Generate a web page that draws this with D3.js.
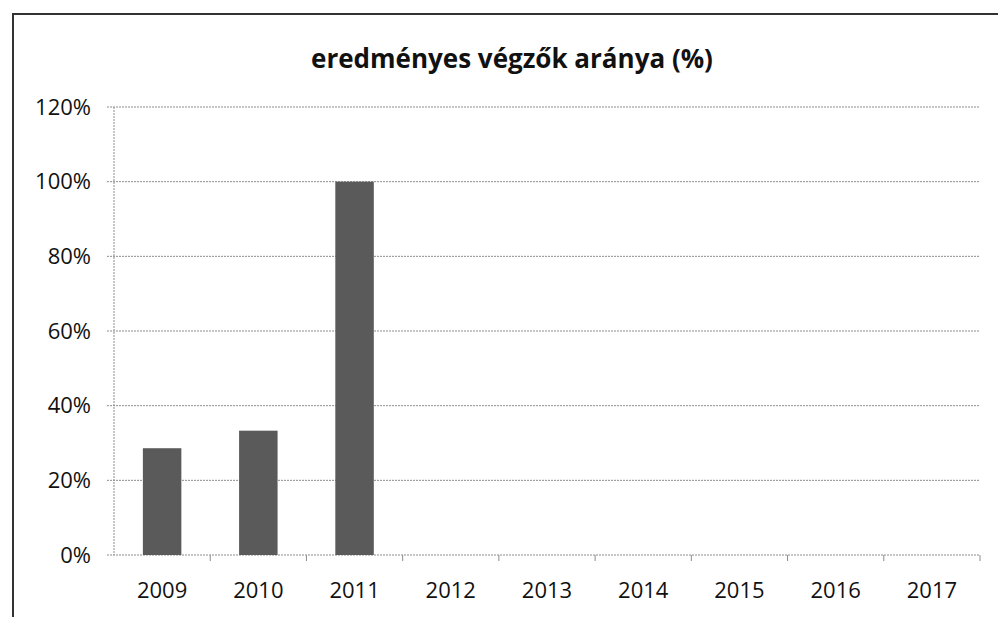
<!DOCTYPE html>
<html lang="hu">
<head>
<meta charset="UTF-8">
<script src="https://d3js.org/d3.v7.min.js"></script>
<title>eredményes végzők aránya</title>
<style>
  body { margin: 0; background: #fff; }
  text { font-family: "Open Sans", sans-serif; fill: #111; }
  .grid line { stroke: #8c8c8c; stroke-dasharray: 2,1; }
</style>
</head>
<body>
<script>
// data
var years = ["2009", "2010", "2011", "2012", "2013", "2014", "2015", "2016", "2017"];
var rates = [28.6, 33.3, 100, null, null, null, null, null, null];
var yTicks = [0, 20, 40, 60, 80, 100, 120];
var title = "eredményes végzők aránya (%)";

var W = 998, H = 617;
var margin = { top: 107, right: 18, bottom: 62, left: 114 };
var width = W - margin.left - margin.right,
    height = H - margin.top - margin.bottom;

var svg = d3.select("body").append("svg")
    .attr("width", W)
    .attr("height", H);

// outer chart frame (only top and left edges are visible in the scan)
svg.append("path")
    .attr("d", "M13,617 L13,14 L998,14")
    .attr("fill", "none")
    .attr("stroke", "#333")
    .attr("stroke-width", 2);

svg.append("text")
    .attr("x", 512)
    .attr("y", 68)
    .attr("text-anchor", "middle")
    .style("font-size", "26px")
    .style("font-weight", "bold")
    .text(title);

var g = svg.append("g")
    .attr("transform", "translate(" + margin.left + "," + margin.top + ")");

var xc = d3.scaleBand().domain(years).range([0, width]);
var y = d3.scaleLinear().domain([0, 120]).range([height, 0]);

// horizontal gridlines with the little left ticks
g.append("g")
    .attr("class", "grid")
    .selectAll("line")
    .data(yTicks)
    .enter().append("line")
    .attr("x1", -7)
    .attr("x2", width)
    .attr("y1", function (d) { return y(d); })
    .attr("y2", function (d) { return y(d); });

// y axis line
g.append("line")
    .attr("x1", 0).attr("x2", 0)
    .attr("y1", 0).attr("y2", height)
    .attr("stroke", "#8c8c8c")
    .attr("stroke-dasharray", "2,1");

// category boundary ticks on x axis
g.append("g")
    .selectAll("line")
    .data(years)
    .enter().append("line")
    .attr("x1", function (d) { return xc(d) + xc.bandwidth(); })
    .attr("x2", function (d) { return xc(d) + xc.bandwidth(); })
    .attr("y1", height)
    .attr("y2", height + 6)
    .attr("stroke", "#8c8c8c");

// y labels
g.append("g")
    .selectAll("text")
    .data(yTicks)
    .enter().append("text")
    .attr("x", -23)
    .attr("y", function (d) { return y(d); })
    .attr("dy", "0.35em")
    .attr("text-anchor", "end")
    .style("font-size", "22px")
    .text(function (d) { return d + "%"; });

// x labels
g.append("g")
    .selectAll("text")
    .data(years)
    .enter().append("text")
    .attr("x", function (d) { return xc(d) + xc.bandwidth() / 2; })
    .attr("y", height + 43)
    .attr("text-anchor", "middle")
    .style("font-size", "22px")
    .text(function (d) { return d; });

// bars
g.append("g")
    .selectAll("rect")
    .data(years.map(function (d, i) { return { year: d, v: rates[i] }; })
        .filter(function (d) { return d.v != null; }))
    .enter().append("rect")
    .attr("x", function (d) { return xc(d.year) + xc.bandwidth() * 0.3; })
    .attr("width", xc.bandwidth() * 0.4)
    .attr("y", function (d) { return y(d.v); })
    .attr("height", function (d) { return height - y(d.v); })
    .attr("fill", "#5a5a5a");
</script>
</body>
</html>
